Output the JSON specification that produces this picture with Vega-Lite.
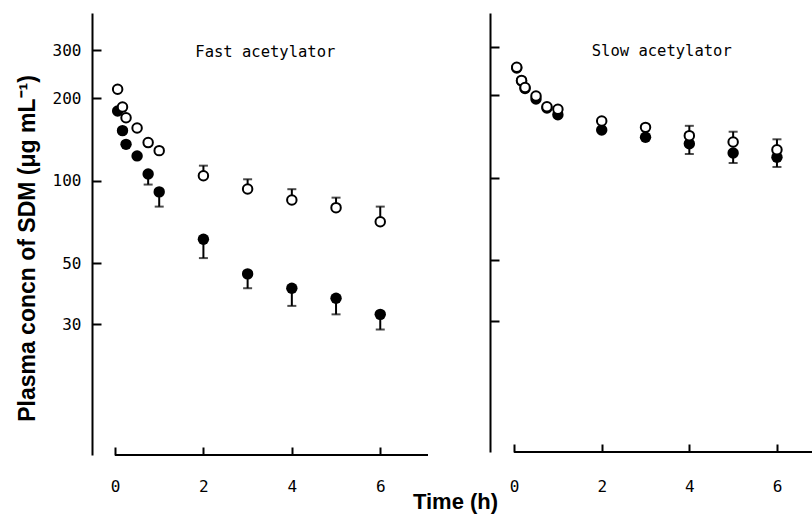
{
  "$schema": "https://vega.github.io/schema/vega-lite/v6.json",
  "background": "white",
  "padding": {"left": 15, "top": 13, "right": 0, "bottom": 5},
  "bounds": "flush",
  "spacing": 62,
  "config": {
    "view": {"stroke": null},
    "axis": {
      "grid": false,
      "domainColor": "black",
      "domainWidth": 2,
      "tickColor": "black",
      "tickWidth": 2,
      "labelColor": "black",
      "labelFont": "DejaVu Sans Mono",
      "labelFontSize": 16,
      "titleColor": "black",
      "titleFont": "Liberation Sans",
      "titleFontWeight": "bold",
      "titleFontSize": 22
    }
  },
  "datasets": {
    "pts": [
      {"panel": "Fast", "group": "filled", "t": 0.06, "v": 180, "lim": null},
      {"panel": "Fast", "group": "filled", "t": 0.17, "v": 152.6, "lim": null},
      {"panel": "Fast", "group": "filled", "t": 0.25, "v": 136, "lim": null},
      {"panel": "Fast", "group": "filled", "t": 0.5, "v": 123.4, "lim": null},
      {"panel": "Fast", "group": "filled", "t": 0.75, "v": 106, "lim": 97},
      {"panel": "Fast", "group": "filled", "t": 1, "v": 91.2, "lim": 80.6},
      {"panel": "Fast", "group": "filled", "t": 2, "v": 61.3, "lim": 52.3},
      {"panel": "Fast", "group": "filled", "t": 3, "v": 45.8, "lim": 40.6},
      {"panel": "Fast", "group": "filled", "t": 4, "v": 40.6, "lim": 35},
      {"panel": "Fast", "group": "filled", "t": 5, "v": 37.3, "lim": 32.6},
      {"panel": "Fast", "group": "filled", "t": 6, "v": 32.6, "lim": 28.7},
      {"panel": "Fast", "group": "open", "t": 0.06, "v": 216, "lim": null},
      {"panel": "Fast", "group": "open", "t": 0.17, "v": 186, "lim": null},
      {"panel": "Fast", "group": "open", "t": 0.25, "v": 170, "lim": null},
      {"panel": "Fast", "group": "open", "t": 0.5, "v": 156, "lim": null},
      {"panel": "Fast", "group": "open", "t": 0.75, "v": 138, "lim": null},
      {"panel": "Fast", "group": "open", "t": 1, "v": 129, "lim": null},
      {"panel": "Fast", "group": "open", "t": 2, "v": 104.5, "lim": 113.7},
      {"panel": "Fast", "group": "open", "t": 3, "v": 93.5, "lim": 101.4},
      {"panel": "Fast", "group": "open", "t": 4, "v": 85.2, "lim": 93.3},
      {"panel": "Fast", "group": "open", "t": 5, "v": 79.9, "lim": 86.9},
      {"panel": "Fast", "group": "open", "t": 6, "v": 71, "lim": 80.6},
      {"panel": "Slow", "group": "filled", "t": 0.06, "v": 252, "lim": null},
      {"panel": "Slow", "group": "filled", "t": 0.17, "v": 226, "lim": null},
      {"panel": "Slow", "group": "filled", "t": 0.25, "v": 212, "lim": null},
      {"panel": "Slow", "group": "filled", "t": 0.5, "v": 194.2, "lim": null},
      {"panel": "Slow", "group": "filled", "t": 0.75, "v": 180, "lim": null},
      {"panel": "Slow", "group": "filled", "t": 1, "v": 170.2, "lim": null},
      {"panel": "Slow", "group": "filled", "t": 2, "v": 149.6, "lim": null},
      {"panel": "Slow", "group": "filled", "t": 3, "v": 140.8, "lim": null},
      {"panel": "Slow", "group": "filled", "t": 4, "v": 133.4, "lim": 122.3},
      {"panel": "Slow", "group": "filled", "t": 5, "v": 123.4, "lim": 113.4},
      {"panel": "Slow", "group": "filled", "t": 6, "v": 119, "lim": 109.7},
      {"panel": "Slow", "group": "open", "t": 0.06, "v": 253.5, "lim": null},
      {"panel": "Slow", "group": "open", "t": 0.17, "v": 227, "lim": null},
      {"panel": "Slow", "group": "open", "t": 0.25, "v": 214, "lim": null},
      {"panel": "Slow", "group": "open", "t": 0.5, "v": 199, "lim": null},
      {"panel": "Slow", "group": "open", "t": 0.75, "v": 182, "lim": null},
      {"panel": "Slow", "group": "open", "t": 1, "v": 178, "lim": null},
      {"panel": "Slow", "group": "open", "t": 2, "v": 161.4, "lim": null},
      {"panel": "Slow", "group": "open", "t": 3, "v": 153, "lim": null},
      {"panel": "Slow", "group": "open", "t": 4, "v": 142.7, "lim": 155},
      {"panel": "Slow", "group": "open", "t": 5, "v": 135.3, "lim": 147.5},
      {"panel": "Slow", "group": "open", "t": 6, "v": 126.8, "lim": 138.4}
    ],
    "labels": [
      {"panel": "Fast", "t": 3.4, "v": 295, "label": "Fast acetylator"},
      {"panel": "Slow", "t": 3.37, "v": 290, "label": "Slow acetylator"}
    ]
  },
  "hconcat": [
    {
      "width": 336,
      "height": 442,
      "layer": [
        {
          "data": {"name": "pts"},
          "transform": [{"filter": "datum.panel === 'Fast' && datum.group === 'filled'"}],
          "mark": {"type": "point", "shape": "circle", "filled": true, "color": "black", "size": 130, "opacity": 1},
          "encoding": {
            "x": {
              "field": "t",
              "type": "quantitative",
              "scale": {"domain": [-0.52, 7.08], "nice": false, "zero": false},
              "axis": {
                "values": [0, 2, 4, 6],
                "domain": false,
                "offset": -8,
                "tickSize": 8,
                "labelPadding": 23,
                "title": "Time (h)",
                "titleX": 363,
                "titleY": 61,
                "titleAlign": "center",
                "titleBaseline": "alphabetic"
              }
            },
            "y": {
              "field": "v",
              "type": "quantitative",
              "scale": {"type": "log", "domain": [10, 410], "nice": false},
              "axis": {
                "values": [30, 50, 100, 200, 300],
                "format": "d",
                "tickSize": -9,
                "labelPadding": 20,
                "title": "Plasma concn of SDM (μg mL⁻¹)",
                "titleFontSize": 23,
                "titleX": -65,
                "titleY": 235,
                "titleAngle": -90,
                "titleAlign": "center",
                "titleBaseline": "middle"
              }
            }
          }
        },
        {
          "data": {"name": "pts"},
          "transform": [{"filter": "datum.panel === 'Fast' && datum.lim != null"}],
          "mark": {"type": "rule", "strokeWidth": 2, "color": "black"},
          "encoding": {
            "x": {"field": "t", "type": "quantitative"},
            "y": {"field": "v", "type": "quantitative"},
            "y2": {"field": "lim"}
          }
        },
        {
          "data": {"name": "pts"},
          "transform": [{"filter": "datum.panel === 'Fast' && datum.lim != null"}],
          "mark": {"type": "tick", "orient": "horizontal", "size": 9, "thickness": 2, "color": "black"},
          "encoding": {
            "x": {"field": "t", "type": "quantitative"},
            "y": {"field": "lim", "type": "quantitative"}
          }
        },
        {
          "data": {"name": "pts"},
          "transform": [{"filter": "datum.panel === 'Fast' && datum.group === 'open'"}],
          "mark": {"type": "point", "shape": "circle", "filled": true, "fill": "white", "stroke": "black", "strokeWidth": 2, "size": 90, "opacity": 1},
          "encoding": {
            "x": {"field": "t", "type": "quantitative"},
            "y": {"field": "v", "type": "quantitative"}
          }
        },
        {
          "data": {"name": "labels"},
          "transform": [{"filter": "datum.panel === 'Fast'"}],
          "mark": {"type": "text", "font": "DejaVu Sans Mono", "fontSize": 15.5, "color": "black", "align": "center", "baseline": "middle"},
          "encoding": {
            "x": {"field": "t", "type": "quantitative"},
            "y": {"field": "v", "type": "quantitative"},
            "text": {"field": "label"}
          }
        },
        {
          "data": {"name": "labels"},
          "transform": [{"filter": "datum.panel === 'Fast'"}],
          "mark": {"type": "rule", "strokeWidth": 2, "color": "black"},
          "encoding": {
            "x": {"datum": 0, "type": "quantitative"},
            "x2": {"datum": 7.08},
            "y": {"datum": 10, "type": "quantitative"}
          }
        }
      ]
    },
    {
      "width": 322,
      "height": 439,
      "layer": [
        {
          "data": {"name": "pts"},
          "transform": [{"filter": "datum.panel === 'Slow' && datum.group === 'filled'"}],
          "mark": {"type": "point", "shape": "circle", "filled": true, "color": "black", "size": 130, "opacity": 1},
          "encoding": {
            "x": {
              "field": "t",
              "type": "quantitative",
              "scale": {"domain": [-0.55, 6.8], "nice": false, "zero": false},
              "axis": {
                "values": [0, 2, 4, 6],
                "domain": false,
                "offset": -8,
                "tickSize": 8,
                "labelPadding": 26,
                "title": null
              }
            },
            "y": {
              "field": "v",
              "type": "quantitative",
              "scale": {"type": "log", "domain": [10, 400], "nice": false},
              "axis": {
                "values": [30, 50, 100, 200, 300],
                "labels": false,
                "tickSize": -9,
                "title": null
              }
            }
          }
        },
        {
          "data": {"name": "pts"},
          "transform": [{"filter": "datum.panel === 'Slow' && datum.lim != null"}],
          "mark": {"type": "rule", "strokeWidth": 2, "color": "black"},
          "encoding": {
            "x": {"field": "t", "type": "quantitative"},
            "y": {"field": "v", "type": "quantitative"},
            "y2": {"field": "lim"}
          }
        },
        {
          "data": {"name": "pts"},
          "transform": [{"filter": "datum.panel === 'Slow' && datum.lim != null"}],
          "mark": {"type": "tick", "orient": "horizontal", "size": 9, "thickness": 2, "color": "black"},
          "encoding": {
            "x": {"field": "t", "type": "quantitative"},
            "y": {"field": "lim", "type": "quantitative"}
          }
        },
        {
          "data": {"name": "pts"},
          "transform": [{"filter": "datum.panel === 'Slow' && datum.group === 'open'"}],
          "mark": {"type": "point", "shape": "circle", "filled": true, "fill": "white", "stroke": "black", "strokeWidth": 2, "size": 90, "opacity": 1},
          "encoding": {
            "x": {"field": "t", "type": "quantitative"},
            "y": {"field": "v", "type": "quantitative"}
          }
        },
        {
          "data": {"name": "labels"},
          "transform": [{"filter": "datum.panel === 'Slow'"}],
          "mark": {"type": "text", "font": "DejaVu Sans Mono", "fontSize": 15.5, "color": "black", "align": "center", "baseline": "middle"},
          "encoding": {
            "x": {"field": "t", "type": "quantitative"},
            "y": {"field": "v", "type": "quantitative"},
            "text": {"field": "label"}
          }
        },
        {
          "data": {"name": "labels"},
          "transform": [{"filter": "datum.panel === 'Slow'"}],
          "mark": {"type": "rule", "strokeWidth": 2, "color": "black"},
          "encoding": {
            "x": {"datum": 0, "type": "quantitative"},
            "x2": {"datum": 6.8},
            "y": {"datum": 10, "type": "quantitative"}
          }
        }
      ]
    }
  ]
}
